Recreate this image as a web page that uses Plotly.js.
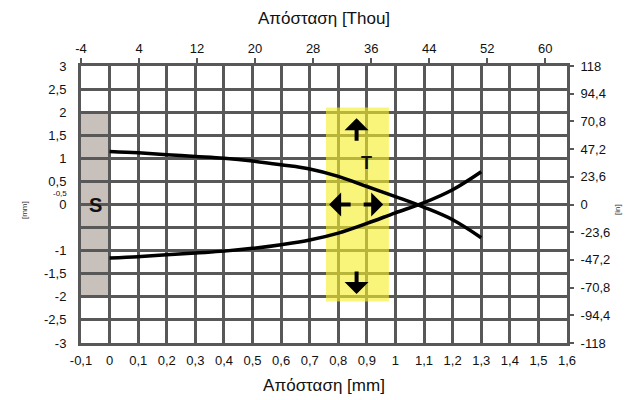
<!DOCTYPE html>
<html>
<head>
<meta charset="utf-8">
<script src="https://cdn.plot.ly/plotly-3.0.1.min.js"></script>
<style>html,body{margin:0;padding:0;background:#fff;}#chart{width:641px;height:400px;}</style>
</head>
<body>
<div id="chart"></div>
<script>
// ---- data ----
const positionMm = [0, 0.1, 0.2, 0.3, 0.4, 0.5, 0.6, 0.7, 0.8, 0.9, 1.0, 1.1, 1.2, 1.3];
const upperCurve = [1.15, 1.12, 1.08, 1.04, 1.0, 0.94, 0.86, 0.77, 0.61, 0.39, 0.17, -0.06, -0.33, -0.72];
const lowerCurve = [-1.16, -1.13, -1.09, -1.05, -1.01, -0.95, -0.87, -0.77, -0.62, -0.41, -0.18, 0.04, 0.32, 0.71];
const thouPerMm = 39.37;

const bottomTickVals = [-0.1, 0, 0.1, 0.2, 0.3, 0.4, 0.5, 0.6, 0.7, 0.8, 0.9, 1.0, 1.1, 1.2, 1.3, 1.4, 1.5, 1.6];
const bottomTickText = ['-0,1', '0', '0,1', '0,2', '0,3', '0,4', '0,5', '0,6', '0,7', '0,8', '0,9', '1', '1,1', '1,2', '1,3', '1,4', '1,5', '1,6'];
const leftTickVals = [-3, -2.5, -2, -1.5, -1, -0.5, 0, 0.5, 1, 1.5, 2, 2.5, 3];
const leftTickText = ['-3', '-2,5', '-2', '-1,5', '-1', '', '0', '0,5', '1', '1,5', '2', '2,5', '3'];
const rightTickVals = [-118, -94.4, -70.8, -47.2, -23.6, 0, 23.6, 47.2, 70.8, 94.4, 118];
const rightTickText = ['-118', '-94,4', '-70,8', '-47,2', '-23,6', '0', '23,6', '47,2', '70,8', '94,4', '118'];
const topTickVals = [-4, 4, 12, 20, 28, 36, 44, 52, 60];
const topTickText = ['-4', '4', '12', '20', '28', '36', '44', '52', '60'];

const FONT = 'Liberation Sans, Arial, sans-serif';
const GRID = '#585858';
const TICKFONT = {family: FONT, size: 13, color: '#111'};

const traces = [
  {x: positionMm, y: upperCurve, type: 'scatter', mode: 'lines', line: {color: '#000', width: 3.5, shape: 'spline'}, hoverinfo: 'skip', showlegend: false},
  {x: positionMm, y: lowerCurve, type: 'scatter', mode: 'lines', line: {color: '#000', width: 3.5, shape: 'spline'}, hoverinfo: 'skip', showlegend: false},
  {x: positionMm.map(v => v * thouPerMm), y: upperCurve.map(v => v * thouPerMm), xaxis: 'x2', yaxis: 'y2',
   type: 'scatter', mode: 'lines', line: {width: 0}, opacity: 0, hoverinfo: 'skip', showlegend: false}
];

const arrowStyle = {text: '', showarrow: true, arrowhead: 1, arrowsize: 1.0, arrowwidth: 4, arrowcolor: '#000', xref: 'x', yref: 'y'};

const layout = {
  width: 641, height: 400,
  margin: {l: 81, r: 74, t: 66, b: 57, pad: 0},
  paper_bgcolor: '#fff', plot_bgcolor: '#fff',
  font: {family: FONT, size: 13, color: '#111'},
  showlegend: false,
  xaxis: {
    range: [-0.1, 1.6], tickvals: bottomTickVals, ticktext: bottomTickText,
    showgrid: true, gridcolor: GRID, gridwidth: 3, zeroline: false,
    showline: true, linecolor: GRID, linewidth: 3, mirror: false,
    ticks: '', ticklabelstandoff: 3, automargin: false,
    tickfont: TICKFONT,
    title: {text: 'Απόσταση [mm]', font: {family: FONT, size: 17, color: '#111'}, standoff: 13}
  },
  xaxis2: {
    overlaying: 'x', side: 'top', range: [-4, 63], tickvals: topTickVals, ticktext: topTickText,
    showgrid: false, zeroline: false, showline: true, linecolor: GRID, linewidth: 3,
    ticks: 'outside', ticklen: 5, tickwidth: 2, tickcolor: GRID, automargin: false,
    tickfont: TICKFONT,
    title: {text: 'Απόσταση [Thou]', font: {family: FONT, size: 17, color: '#111'}, standoff: 12}
  },
  yaxis: {
    range: [-3, 3], tickvals: leftTickVals, ticktext: leftTickText,
    showgrid: true, gridcolor: GRID, gridwidth: 3, zeroline: false,
    showline: true, linecolor: GRID, linewidth: 3,
    ticks: '', ticklabelstandoff: 9, automargin: false,
    tickfont: TICKFONT
  },
  yaxis2: {
    overlaying: 'y', side: 'right', range: [-118, 118], tickvals: rightTickVals, ticktext: rightTickText,
    showgrid: false, zeroline: false, showline: true, linecolor: GRID, linewidth: 3,
    ticks: 'outside', ticklen: 4, tickwidth: 2, tickcolor: GRID, automargin: false,
    ticklabelstandoff: 4,
    tickfont: TICKFONT
  },
  shapes: [
    {type: 'rect', xref: 'x', yref: 'y', x0: -0.1, x1: 0, y0: -2, y1: 2,
     fillcolor: '#c8c0bb', line: {width: 0}, layer: 'below'},
    {type: 'rect', xref: 'x', yref: 'y', x0: 0.757, x1: 0.977, y0: -2.1, y1: 2.1,
     fillcolor: 'rgba(246,238,40,0.62)', line: {width: 0}, layer: 'between'}
  ],
  annotations: [
    {x: -0.05, y: 0, xref: 'x', yref: 'y', text: '<b>S</b>', showarrow: false,
     font: {family: FONT, size: 20, color: '#111'}},
    {x: 0.899, y: 0.89, xref: 'x', yref: 'y', text: '<b>T</b>', showarrow: false,
     font: {family: FONT, size: 18, color: '#111'}},
    {x: 0, y: 0.5, xref: 'paper', yref: 'y', xanchor: 'right', xshift: -12, yshift: -12,
     text: '-0,5', showarrow: false, font: {family: FONT, size: 8, color: '#111'}},
    Object.assign({x: 0.864, y: 1.87, ax: 0, ay: 24}, arrowStyle),
    Object.assign({x: 0.864, y: -1.94, ax: 0, ay: -24}, arrowStyle),
    Object.assign({x: 0.768, y: 0, ax: 23, ay: 0}, arrowStyle),
    Object.assign({x: 0.957, y: 0, ax: -21, ay: 0}, arrowStyle),
    {x: 0, y: 0.48, xref: 'paper', yref: 'paper', xanchor: 'center', xshift: -57,
     text: '[mm]', textangle: -90, showarrow: false, font: {family: FONT, size: 8, color: '#333'}},
    {x: 1, y: 0.48, xref: 'paper', yref: 'paper', xanchor: 'center', xshift: 50,
     text: '[in]', textangle: -90, showarrow: false, font: {family: FONT, size: 8, color: '#333'}}
  ]
};

Plotly.newPlot('chart', traces, layout, {staticPlot: true, displayModeBar: false});
</script>
</body>
</html>
